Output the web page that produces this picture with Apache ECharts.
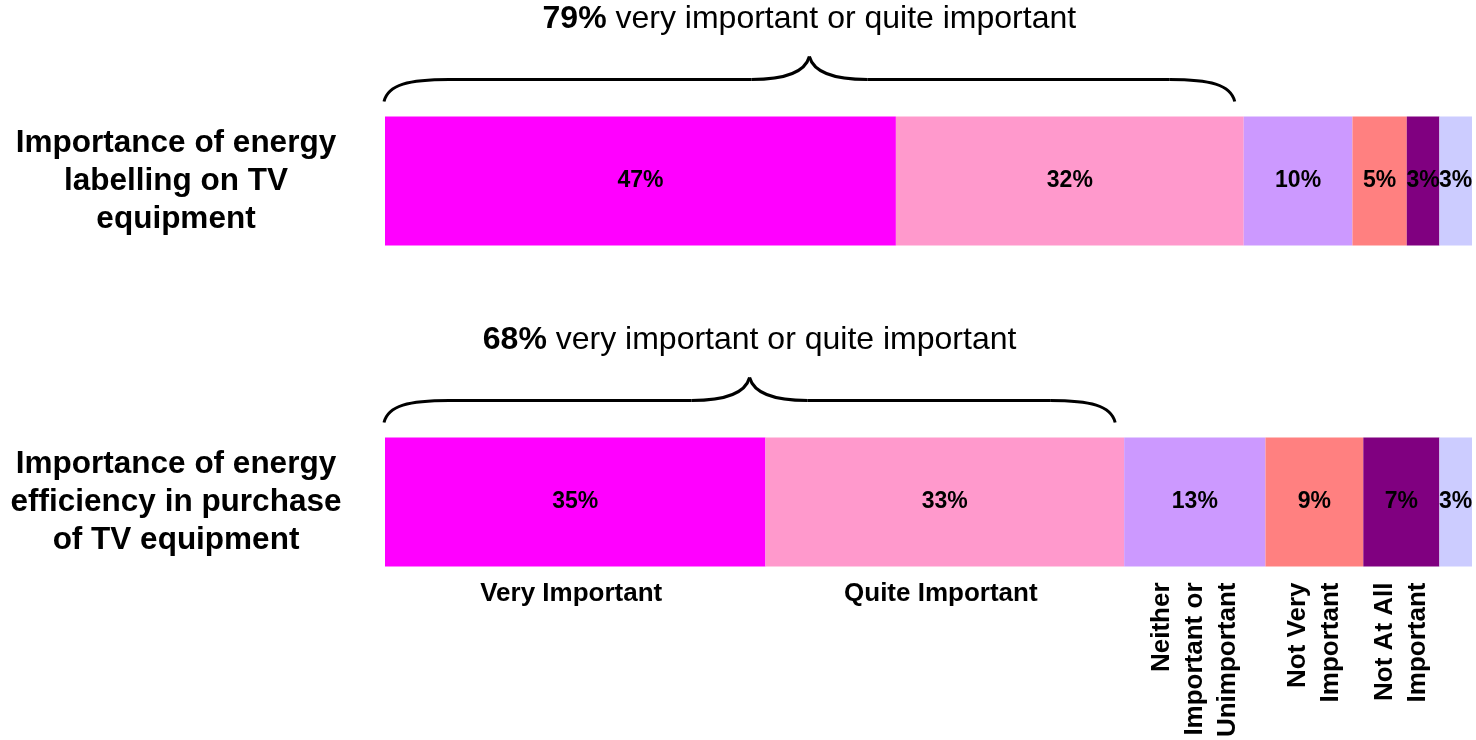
<!DOCTYPE html>
<html>
<head>
<meta charset="utf-8">
<title>Importance of energy labelling and efficiency for TV equipment</title>
<script src="https://cdn.jsdelivr.net/npm/echarts@6/dist/echarts.min.js"></script>
<style>
  html, body { margin: 0; padding: 0; background: #ffffff; }
  #chart { width: 1476px; height: 740px; }
</style>
</head>
<body>
<div id="chart"></div>
<script>
// Survey questions (one stacked bar each)
const questions = [
  'Importance of energy\nlabelling on TV\nequipment',
  'Importance of energy\nefficiency in purchase\nof TV equipment'
];

// Answer levels, in stacking order
const levels = [
  'Very Important',
  'Quite Important',
  'Neither Important or Unimportant',
  'Not Very Important',
  'Not At All Important',
  "Don't Know"
];

// Level captions printed beneath the lower bar
const levelCaptions = [
  'Very Important',
  'Quite Important',
  'Neither\nImportant or\nUnimportant',
  'Not Very\nImportant',
  'Not At All\nImportant',
  ''
];

// Share of respondents (%) per level
const labellingShares = [47, 32, 10, 5, 3, 3];
const efficiencyShares = [35, 33, 13, 9, 7, 3];

// Combined "very" + "quite" important share per question
const importantTotals = [79, 68];
const importantText = 'very important or quite important';

const levelColors = ['#FF00FF', '#FF99CC', '#CC99FF', '#FF8080', '#800080', '#CCCCFF'];

const FONT = '"Liberation Sans", Arial, Helvetica, sans-serif';
const BAR_W = 129;

const chart = echarts.init(document.getElementById('chart'), null, { renderer: 'canvas' });

const barSeries = levels.map((name, i) => ({
  name: name,
  type: 'bar',
  stack: 'total',
  barWidth: BAR_W,
  itemStyle: { color: levelColors[i] },
  label: {
    show: true,
    position: 'inside',
    formatter: '{c}%',
    color: '#000000',
    fontFamily: FONT,
    fontWeight: 'bold',
    fontSize: 23
  },
  emphasis: { disabled: true },
  data: [labellingShares[i], efficiencyShares[i]]
}));

// Curly brace with a caption above the important share of each bar
const braceData = importantTotals.map((t, row) => [0, t, row]);
const braceSeries = {
  type: 'custom',
  clip: false,
  silent: true,
  z: 5,
  encode: { x: [0, 1], y: 2 },
  data: braceData,
  renderItem: function (params, api) {
    const row = api.value(2);
    const total = api.value(1);
    const p0 = api.coord([api.value(0), row]);
    const p1 = api.coord([total, row]);
    const top = p0[1] - BAR_W / 2;
    const x0 = p0[0] - 1;
    const x1 = p1[0] - 9;
    const cx = (x0 + x1) / 2;
    const yArm = top - 15;
    const yLine = top - 37;
    const yTip = top - 60;
    const stroke = { stroke: '#000000', lineWidth: 3, fill: null };
    const curl = 65, mid = 58;
    return {
      type: 'group',
      children: [
        { type: 'bezierCurve', shape: { x1: x0, y1: yArm, cpx1: x0 + 4, cpy1: yLine + 5, cpx2: x0 + 25, cpy2: yLine, x2: x0 + curl, y2: yLine }, style: stroke },
        { type: 'line', shape: { x1: x0 + curl, y1: yLine, x2: cx - mid, y2: yLine }, style: stroke },
        { type: 'bezierCurve', shape: { x1: cx - mid, y1: yLine, cpx1: cx - 22, cpy1: yLine, cpx2: cx - 4, cpy2: yLine - 8, x2: cx, y2: yTip }, style: stroke },
        { type: 'bezierCurve', shape: { x1: cx, y1: yTip, cpx1: cx + 4, cpy1: yLine - 8, cpx2: cx + 22, cpy2: yLine, x2: cx + mid, y2: yLine }, style: stroke },
        { type: 'line', shape: { x1: cx + mid, y1: yLine, x2: x1 - curl, y2: yLine }, style: stroke },
        { type: 'bezierCurve', shape: { x1: x1 - curl, y1: yLine, cpx1: x1 - 25, cpy1: yLine, cpx2: x1 - 4, cpy2: yLine + 5, x2: x1, y2: yArm }, style: stroke },
        {
          type: 'text',
          x: cx,
          y: top - 97,
          style: {
            text: '{b|' + total + '%} ' + importantText,
            align: 'center',
            verticalAlign: 'middle',
            fill: '#000000',
            font: '32px ' + FONT,
            rich: {
              b: { fontWeight: 'bold', fontSize: 32, fontFamily: FONT, fill: '#000000' }
            }
          }
        }
      ]
    };
  }
};

// Level captions under the lower bar, centred on each segment
const captionData = [];
let cum = 0;
efficiencyShares.forEach((v, i) => {
  if (levelCaptions[i]) captionData.push([cum, cum + v, questions.length - 1, i]);
  cum += v;
});
const captionSeries = {
  type: 'custom',
  clip: false,
  silent: true,
  encode: { x: [0, 1], y: 2 },
  data: captionData,
  renderItem: function (params, api) {
    const row = api.value(2);
    const idx = api.value(3);
    const a = api.coord([api.value(0), row]);
    const b = api.coord([api.value(1), row]);
    const cx = (a[0] + b[0]) / 2;
    const bottom = a[1] + BAR_W / 2;
    const text = levelCaptions[idx];
    if (text.indexOf('\n') < 0) {
      return {
        type: 'text', x: cx - 4, y: bottom + 27,
        style: { text: text, align: 'center', verticalAlign: 'middle', fill: '#000000', font: 'bold 26px ' + FONT }
      };
    }
    return {
      type: 'text', x: cx, y: bottom + 16, rotation: Math.PI / 2,
      style: { text: text, align: 'right', verticalAlign: 'middle', fill: '#000000', font: 'bold 26px ' + FONT, lineHeight: 33 }
    };
  }
};

chart.setOption({
  animation: false,
  backgroundColor: '#ffffff',
  grid: { left: 385, right: 4, top: 20.5, bottom: 77.5, containLabel: false },
  xAxis: {
    type: 'value',
    min: 0,
    max: 100,
    show: false
  },
  yAxis: {
    type: 'category',
    inverse: true,
    data: questions,
    axisLine: { show: false },
    axisTick: { show: false },
    splitLine: { show: false },
    axisLabel: {
      margin: 209,
      align: 'center',
      color: '#000000',
      fontFamily: FONT,
      fontWeight: 'bold',
      fontSize: 31.5,
      lineHeight: 38
    }
  },
  series: barSeries.concat([braceSeries, captionSeries])
});
</script>
</body>
</html>
